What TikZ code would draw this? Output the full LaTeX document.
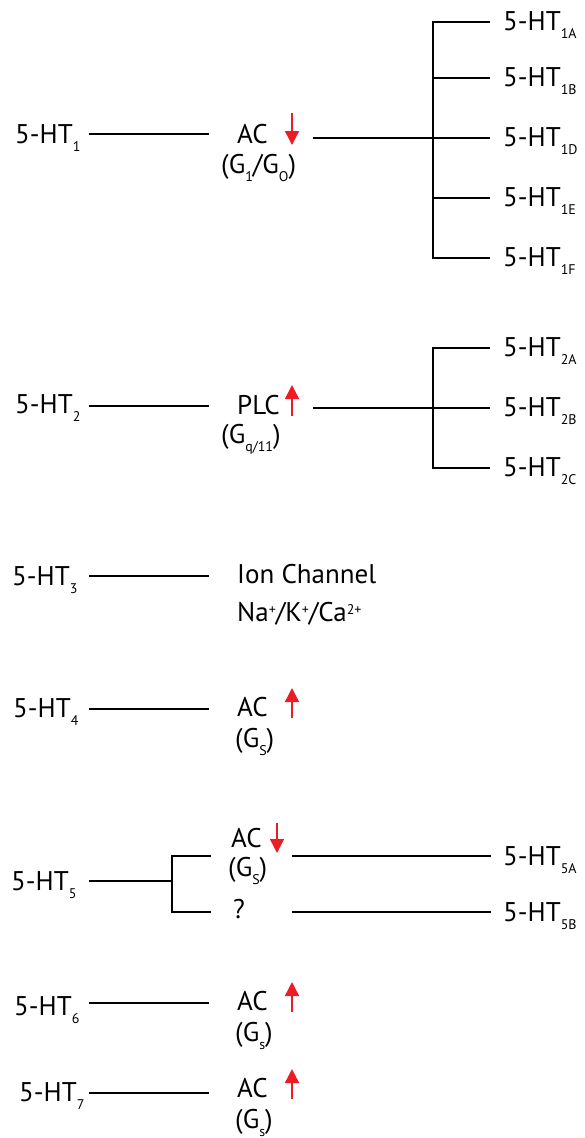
\documentclass[tikz,border=0pt]{standalone}
\usepackage{fontspec}
\setmainfont{PT Sans}
\usetikzlibrary{arrows.meta}
\definecolor{signalRed}{HTML}{ED1C24}
\newcommand{\lowsub}[1]{\raisebox{-8pt}{\fontsize{14}{14}\selectfont #1}}
\newcommand{\highsup}[1]{\raisebox{7pt}{\fontsize{14}{14}\selectfont #1}}

\begin{document}
\begin{tikzpicture}[x=1pt, y=-1pt, font=\fontsize{27}{30}\selectfont,
    lbl/.style={anchor=base west, inner sep=0pt},
    link/.style={line width=1.3pt, line cap=rect},
    regArrow/.style={signalRed, line width=1.4pt, -{Triangle[width=14pt, length=14pt]}}]
  \useasboundingbox (0,0) rectangle (584,1138);

  % 5-HT1: AC down, five subtypes on the right
  \node[lbl] (r1) at (15,143) {5-HT\lowsub{1}};
  \coordinate (a1) at (90,134);
  \coordinate (b1) at (208,134);
  \draw[link] (a1) -- (b1);
  \node[lbl] (ac1) at (237,143) {AC};
  \coordinate (dn1) at (292,113);
  \coordinate (tip1) at (292,145);
  \draw[regArrow] (dn1) -- (tip1);
  \node[lbl] (g1) at (221,173) {(G\lowsub{1}/G\lowsub{O})};
  \coordinate (t1) at (314,138);
  \coordinate (j1) at (433,138);
  \draw[link] (t1) -- (j1);
  \foreach \s/\y in {1A/22, 1B/78, 1D/138, 1E/198, 1F/258} {
    \coordinate (k\s) at (433,\y);
    \coordinate (e\s) at (489,\y);
    \draw[link] (k\s) -- (e\s);
    \node[lbl] (st\s) at (503,\y+8) {5-HT\lowsub{\s}};
  }
  \draw[link] (k1A) -- (k1F);

  % 5-HT2: PLC up, three subtypes
  \node[lbl] (r2) at (15,413) {5-HT\lowsub{2}};
  \coordinate (a2) at (90,406);
  \coordinate (b2) at (208,406);
  \draw[link] (a2) -- (b2);
  \node[lbl] (plc2) at (237,414) {PLC};
  \coordinate (up2) at (292,416);
  \coordinate (tip2) at (292,385);
  \draw[regArrow] (up2) -- (tip2);
  \node[lbl] (g2) at (221,443) {(G\lowsub{q/11})};
  \coordinate (t2) at (314,408);
  \coordinate (j2) at (433,408);
  \draw[link] (t2) -- (j2);
  \foreach \s/\y in {2A/348, 2B/408, 2C/468} {
    \coordinate (k\s) at (433,\y);
    \coordinate (e\s) at (489,\y);
    \draw[link] (k\s) -- (e\s);
    \node[lbl] (st\s) at (503,\y+8) {5-HT\lowsub{\s}};
  }
  \draw[link] (k2A) -- (k2C);

  % 5-HT3: ion channel
  \node[lbl] (r3) at (12,585) {5-HT\lowsub{3}};
  \coordinate (a3) at (90,576);
  \coordinate (b3) at (208,576);
  \draw[link] (a3) -- (b3);
  \node[lbl] (ion3) at (237,583) {Ion Channel};
  \node[lbl] (na3) at (237,621) {Na\highsup{+}/K\highsup{+}/Ca\highsup{2+}};

  % 5-HT4, 5-HT6, 5-HT7: AC up
  \foreach \n/\lx/\ly/\y/\ab/\s in {4/13/717/709/716/S, 6/14/1015/1003/1010/s, 7/19/1101/1093/1097/s} {
    \node[lbl] (r\n) at (\lx,\ly) {5-HT\lowsub{\n}};
    \coordinate (a\n) at (90,\y);
    \coordinate (b\n) at (208,\y);
    \draw[link] (a\n) -- (b\n);
    \node[lbl] (ac\n) at (237,\ab) {AC};
    \coordinate (up\n) at (292,\ab+2);
    \coordinate (tip\n) at (292,\ab-28);
    \draw[regArrow] (up\n) -- (tip\n);
    \node[lbl] (g\n) at (235,\ab+31) {(G\lowsub{\s})};
  }

  % 5-HT5: split into AC down and unknown
  \node[lbl] (r5) at (11,890) {5-HT\lowsub{5}};
  \coordinate (a5) at (90,881);
  \coordinate (j5) at (172,881);
  \draw[link] (a5) -- (j5);
  \coordinate (j5a) at (172,856);
  \coordinate (j5b) at (172,912);
  \coordinate (b5a) at (210,856);
  \coordinate (b5b) at (210,912);
  \draw[link] (b5a) -- (j5a) -- (j5b) -- (b5b);
  \node[lbl] (ac5) at (231,847) {AC};
  \coordinate (dn5) at (277,823);
  \coordinate (tip5) at (277,853);
  \draw[regArrow] (dn5) -- (tip5);
  \node[lbl] (g5) at (228,876) {(G\lowsub{S})};
  \node[lbl] (q5) at (233,918) {?};
  \foreach \s/\y in {5A/856, 5B/912} {
    \coordinate (t\s) at (293,\y);
    \coordinate (e\s) at (490,\y);
    \draw[link] (t\s) -- (e\s);
    \node[lbl] (st\s) at (503,\y+9) {5-HT\lowsub{\s}};
  }
\end{tikzpicture}
\end{document}
